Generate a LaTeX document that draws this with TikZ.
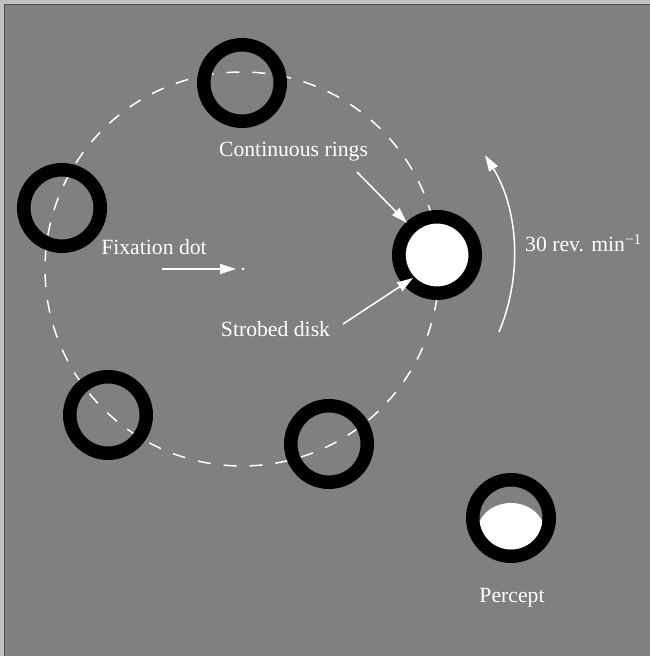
\documentclass[tikz,border=0pt]{standalone}
\usepackage{fontspec}
\setmainfont{Liberation Serif}
\usetikzlibrary{arrows.meta}
\definecolor{bggray}{RGB}{128,128,128}
\definecolor{edgelight}{RGB}{192,192,192}
\definecolor{edgedark}{RGB}{80,80,80}
\begin{document}
\begin{tikzpicture}[x=1pt,y=1pt,
  ringstyle/.style={draw=black,line width=13.5pt},
  pointer/.style={draw=white,line width=1.5pt,-{Triangle[length=16pt,width=10pt]}},
  labeltext/.style={text=white,inner sep=0pt,anchor=base,font=\fontsize{21.7}{26}\selectfont}]
\useasboundingbox (0,0) rectangle (650,656);
% background and frame
\fill[edgelight] (0,0) rectangle (650,656);
\fill[bggray] (5,0) rectangle (650,651);
\draw[edgedark,line width=1pt] (4.5,0) -- (4.5,651.5) -- (650,651.5);
% dashed orbit
\coordinate (ctr) at (242,387);
\draw[white,line width=1.5pt,dash pattern=on 13pt off 13pt] (ctr) circle[radius=197];
% ring centres
\coordinate (rtop) at (242,573);
\coordinate (rleft) at (62,448);
\coordinate (rbl) at (108,241);
\coordinate (rbot) at (329,212);
\coordinate (rright) at (437,401);
\coordinate (rperc) at (511,138);
% strobed disk
\fill[white] (438,401) circle[radius=32];
% rings
\foreach \r in {rtop,rleft,rbl,rbot,rright,rperc}
  \draw[ringstyle] (\r) circle[radius=38.25];
% percept white lens
\begin{scope}
  \clip (rperc) circle[radius=31.5];
  \fill[white] (511,123) ellipse[x radius=34,y radius=30];
\end{scope}
% fixation dot
\node[circle,fill=white,inner sep=0pt,minimum size=3pt] (fix) at (243,387) {};
% labels
\node[labeltext] (tcont) at (293.5,499) {Continuous rings};
\node[labeltext] (tfix) at (154,401) {Fixation dot};
\node[labeltext] (tstrobe) at (275.5,319) {Strobed disk};
\node[labeltext,anchor=base west] (trev) at (525,404) {30 rev. min\textsuperscript{\char"2212 1}};
\node[labeltext] (tperc) at (512,53) {Percept};
% pointer arrows
\coordinate (contA) at (357,484);
\coordinate (contB) at (407,433);
\coordinate (strA) at (343,332);
\coordinate (strB) at (413,378);
\coordinate (fixA) at (162,387);
\coordinate (fixB) at (236,387);
\draw[pointer] (contA) -- (contB);
\draw[pointer] (strA) -- (strB);
\draw[pointer] (fixA) -- (fixB);
% rotation arrow
\coordinate (rotA) at (499,324);
\draw[pointer] (rotA) arc[start angle=-22.7,end angle=31.7,radius=194];
\end{tikzpicture}
\end{document}
